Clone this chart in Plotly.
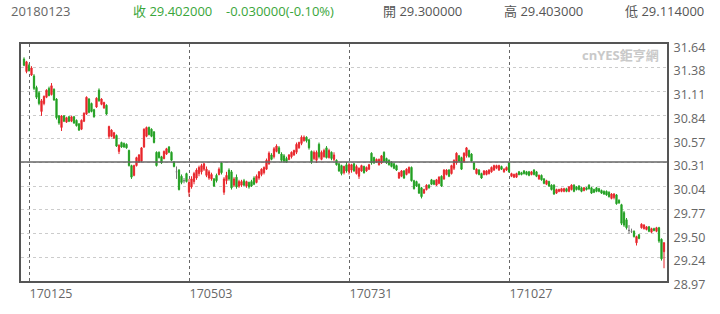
import plotly.graph_objects as go

# ---------------- data ----------------
opens = [
31.47,31.33,31.40,31.29,31.28,31.15,31.09,30.88,30.97,31.04,
31.14,31.07,31.13,31.02,30.83,30.70,30.83,30.76,30.82,30.77,
30.82,30.78,30.74,30.68,30.77,30.85,31.02,30.97,30.90,30.93,
31.12,30.96,30.92,30.95,30.60,30.60,30.58,30.61,30.43,30.53,
30.52,30.51,30.44,30.27,30.16,30.27,30.31,30.32,30.48,30.60,
30.70,30.68,30.65,30.42,30.42,30.37,30.35,30.40,30.48,30.42,
30.31,30.20,30.22,30.15,30.10,30.18,
29.97,30.03,30.09,30.13,30.18,30.20,30.23,30.16,30.13,30.12,
30.12,30.16,30.17,30.30,29.97,30.10,30.22,30.20,30.05,30.14,
30.04,30.05,30.10,30.04,30.08,30.09,30.13,30.08,30.13,30.17,
30.19,30.23,30.29,30.39,30.37,30.43,30.47,30.40,30.38,30.35,
30.34,30.37,30.39,30.42,30.47,30.52,30.55,30.59,30.56,30.43,
30.35,30.33,30.51,30.34,30.37,30.47,30.36,30.42,30.34,30.33,
30.29,30.27,30.19,30.28,
30.20,30.22,30.29,30.18,30.15,30.21,30.26,30.21,30.23,30.41,
30.36,30.31,30.28,30.30,30.42,30.35,30.33,30.31,30.29,30.27,
30.13,30.15,30.21,30.17,30.19,30.25,30.10,30.09,30.06,30.02,
29.96,30.00,30.05,30.11,30.10,30.05,30.07,30.15,30.12,30.17,
30.22,30.18,30.24,30.30,30.38,30.36,30.31,30.38,30.44,30.40,
30.30,30.18,30.22,30.18,30.17,30.17,30.18,30.20,30.22,30.24,
30.22,30.26,30.20,30.22,
30.30,30.15,30.14,30.14,30.20,30.19,30.21,30.20,30.20,30.17,
30.22,30.20,30.12,30.16,30.12,30.06,30.09,30.05,30.05,29.96,
29.98,29.98,29.98,30.01,29.98,30.00,30.05,30.03,30.04,30.02,
29.99,30.02,30.05,30.02,30.00,30.02,30.01,29.99,29.98,29.98,
29.97,29.90,29.91,29.94,29.88,29.83,29.74,29.66,29.54,29.53,
29.53,29.40,29.49,29.57,29.56,29.55,29.58,29.52,29.56,29.53,
29.57,29.44,29.30]

closes = [
31.40,31.44,31.34,31.37,31.14,31.04,30.97,31.00,31.05,31.12,
31.06,31.17,31.01,30.81,30.75,30.83,30.77,30.81,30.77,30.82,
30.75,30.72,30.67,30.78,30.86,31.04,30.87,30.88,30.82,31.03,
31.00,31.02,30.98,30.85,30.71,30.67,30.64,30.49,30.50,30.48,
30.48,30.47,30.27,30.14,30.27,30.36,30.39,30.47,30.68,30.70,
30.62,30.60,30.53,30.27,30.36,30.30,30.43,30.46,30.42,30.33,
30.26,30.20,30.00,30.08,30.10,30.09,
30.08,30.12,30.18,30.22,30.25,30.27,30.29,30.23,30.20,30.17,
30.04,30.10,30.23,30.19,30.12,30.16,30.12,30.02,30.12,30.03,
30.09,30.09,30.05,30.09,30.03,30.04,30.06,30.15,30.20,30.23,
30.25,30.33,30.41,30.34,30.46,30.49,30.41,30.33,30.32,30.31,
30.39,30.42,30.44,30.51,30.53,30.59,30.59,30.55,30.47,30.31,
30.42,30.42,30.37,30.42,30.44,30.36,30.44,30.35,30.39,30.28,
30.21,30.18,30.26,30.21,
30.28,30.28,30.21,30.26,30.24,30.27,30.19,30.25,30.28,30.30,
30.30,30.34,30.34,30.38,30.32,30.30,30.28,30.26,30.24,30.22,
30.19,30.21,30.13,30.23,30.25,30.10,30.01,30.04,29.96,29.92,
30.00,30.05,30.02,30.06,30.06,30.11,30.14,30.04,30.22,30.22,
30.15,30.27,30.33,30.41,30.32,30.23,30.41,30.47,30.37,30.32,
30.23,30.23,30.17,30.13,30.21,30.21,30.22,30.25,30.27,30.27,
30.27,30.23,30.23,30.25,
30.20,30.18,30.17,30.18,30.17,30.17,30.18,30.17,30.16,30.20,
30.17,30.15,30.16,30.11,30.07,30.10,30.04,30.00,29.95,30.00,
30.00,30.01,30.01,29.98,30.03,30.05,29.98,30.00,30.00,29.98,
30.02,30.00,30.01,29.96,29.97,29.98,29.98,29.96,29.95,29.94,
29.92,29.95,29.95,29.84,29.85,29.62,29.60,29.57,29.54,29.53,
29.47,29.47,29.45,29.61,29.60,29.58,29.53,29.56,29.54,29.57,
29.42,29.22,29.402]

highs = [
31.49,31.45,31.42,31.39,31.30,31.17,31.11,31.02,31.06,31.13,
31.16,31.20,31.14,31.03,30.84,30.84,30.84,30.82,30.83,30.83,
30.83,30.79,30.75,30.79,30.87,31.05,31.03,30.98,30.91,31.04,
31.14,31.03,30.99,30.96,30.72,30.68,30.65,30.62,30.51,30.54,
30.53,30.52,30.45,30.28,30.28,30.37,30.40,30.48,30.69,30.71,
30.71,30.69,30.66,30.43,30.43,30.38,30.44,30.47,30.49,30.43,
30.32,30.26,30.23,30.17,30.13,30.19,
30.12,30.15,30.20,30.24,30.27,30.29,30.30,30.26,30.22,30.19,
30.13,30.18,30.25,30.31,30.14,30.20,30.24,30.22,30.14,30.17,
30.11,30.11,30.12,30.10,30.09,30.11,30.15,30.17,30.21,30.24,
30.26,30.35,30.43,30.41,30.48,30.51,30.49,30.42,30.40,30.37,
30.40,30.43,30.45,30.53,30.54,30.61,30.61,30.60,30.57,30.44,
30.44,30.44,30.53,30.44,30.46,30.49,30.46,30.43,30.42,30.34,
30.30,30.28,30.27,30.31,
30.30,30.29,30.30,30.28,30.25,30.28,30.27,30.26,30.29,30.42,
30.37,30.35,30.35,30.39,30.43,30.36,30.34,30.32,30.30,30.28,
30.20,30.22,30.22,30.24,30.26,30.26,30.11,30.10,30.07,30.03,
30.01,30.06,30.06,30.12,30.11,30.12,30.15,30.16,30.23,30.23,
30.23,30.28,30.34,30.42,30.39,30.37,30.42,30.48,30.45,30.41,
30.31,30.24,30.23,30.19,30.22,30.22,30.23,30.26,30.28,30.28,
30.28,30.27,30.24,30.26,
30.31,30.19,30.18,30.19,30.21,30.20,30.22,30.21,30.21,30.21,
30.23,30.21,30.17,30.17,30.13,30.11,30.10,30.06,30.06,30.01,
30.01,30.02,30.02,30.02,30.04,30.06,30.06,30.04,30.05,30.03,
30.03,30.03,30.06,30.03,30.01,30.03,30.02,30.00,29.99,29.99,
29.98,29.96,29.96,29.95,29.89,29.84,29.76,29.68,29.60,29.56,
29.54,29.48,29.50,29.62,29.61,29.59,29.59,29.57,29.57,29.58,
29.58,29.45,29.403]

lows = [
31.39,31.31,31.33,31.28,31.12,31.02,30.95,30.83,30.95,31.03,
31.05,31.06,31.00,30.79,30.73,30.66,30.76,30.75,30.76,30.76,
30.74,30.71,30.66,30.67,30.76,30.84,30.86,30.87,30.81,30.92,
30.99,30.95,30.91,30.84,30.57,30.59,30.57,30.48,30.40,30.47,
30.47,30.46,30.26,30.12,30.15,30.26,30.30,30.31,30.47,30.59,
30.61,30.59,30.52,30.26,30.35,30.29,30.34,30.39,30.41,30.32,
30.25,30.12,29.99,30.06,30.07,30.08,
29.92,30.01,30.06,30.11,30.15,30.17,30.21,30.14,30.11,30.10,
30.03,30.08,30.16,30.17,29.94,30.06,30.10,30.00,30.03,30.01,
30.02,30.03,30.04,30.02,30.01,30.03,30.05,30.07,30.11,30.15,
30.17,30.22,30.28,30.33,30.35,30.42,30.40,30.31,30.30,30.30,
30.33,30.35,30.38,30.40,30.46,30.50,30.54,30.53,30.45,30.29,
30.33,30.30,30.35,30.33,30.36,30.35,30.35,30.33,30.32,30.27,
30.20,30.16,30.17,30.19,
30.17,30.19,30.20,30.17,30.12,30.20,30.18,30.20,30.22,30.28,
30.29,30.30,30.27,30.29,30.31,30.29,30.27,30.25,30.23,30.21,
30.12,30.14,30.12,30.16,30.18,30.09,30.00,30.03,29.95,29.90,
29.95,29.99,30.01,30.05,30.05,30.04,30.06,30.03,30.11,30.16,
30.14,30.17,30.22,30.28,30.31,30.22,30.30,30.36,30.36,30.31,
30.22,30.17,30.16,30.12,30.16,30.16,30.17,30.19,30.21,30.23,
30.21,30.22,30.19,30.21,
30.19,30.14,30.13,30.13,30.16,30.16,30.17,30.16,30.15,30.16,
30.16,30.14,30.11,30.10,30.06,30.05,30.03,29.99,29.94,29.95,
29.97,29.97,29.97,29.97,29.97,29.99,29.97,29.99,29.99,29.97,
29.98,29.99,30.00,29.95,29.96,29.97,29.97,29.95,29.94,29.93,
29.91,29.89,29.89,29.83,29.84,29.60,29.58,29.55,29.50,29.51,
29.46,29.37,29.44,29.56,29.55,29.54,29.52,29.51,29.53,29.52,
29.40,29.20,29.114]

date_tick_index = [2, 66, 130, 194]
date_tick_labels = ["170125", "170503", "170731", "171027"]

price_ticks = [28.97, 29.24, 29.50, 29.77, 30.04, 30.31, 30.57, 30.84, 31.11, 31.38, 31.64]
ref_line = 30.31

header_date = "20180123"
header_close = "收 29.402000"
header_change = "-0.030000(-0.10%)"
header_open = "開 29.300000"
header_high = "高 29.403000"
header_low = "低 29.114000"
watermark = "cnYES鉅亨網"

# ---------------- figure ----------------
RED = "#e8262c"
GREEN = "#23a023"
GRAY = "#777777"
FONT = "Open Sans, Noto Sans CJK TC, sans-serif"

idx = list(range(len(closes)))
reg = [i for i in idx if opens[i] != closes[i]]
doji = [i for i in idx if opens[i] == closes[i]]

fig = go.Figure()
fig.add_trace(go.Candlestick(
    x=reg, open=[opens[i] for i in reg], high=[highs[i] for i in reg],
    low=[lows[i] for i in reg], close=[closes[i] for i in reg],
    increasing=dict(line=dict(color=RED, width=1), fillcolor=RED),
    decreasing=dict(line=dict(color=GREEN, width=1), fillcolor=GREEN),
    whiskerwidth=0, showlegend=False, hoverinfo="skip"))
fig.add_trace(go.Candlestick(
    x=doji, open=[opens[i] for i in doji], high=[highs[i] for i in doji],
    low=[lows[i] for i in doji], close=[closes[i] for i in doji],
    increasing=dict(line=dict(color=GRAY, width=1), fillcolor=GRAY),
    decreasing=dict(line=dict(color=GRAY, width=1), fillcolor=GRAY),
    whiskerwidth=0, showlegend=False, hoverinfo="skip"))

L, R, T, B = 21, 667, 44, 287
W, H = 720, 314

def px(xp):
    return (xp - L) / (R - L)

def py(yp):
    return (B - yp) / (B - T)

fig.add_shape(type="line", xref="paper", yref="y", x0=0, x1=1, y0=ref_line, y1=ref_line,
              line=dict(color="#666666", width=1.5), layer="above")

ann = []
def head(text, xpix, color):
    ann.append(dict(text=text, x=px(xpix), y=py(10), xref="paper", yref="paper",
                    xanchor="left", yanchor="middle", showarrow=False,
                    font=dict(family=FONT, size=13, color=color)))

head(header_date, 9, "#666666")
head(header_close, 131, "#3aa63a")
head(header_change, 224, "#3aa63a")
head(header_open, 381, "#555555")
head(header_high, 502, "#555555")
head(header_low, 623, "#555555")

ann.append(dict(text="<b>" + watermark + "</b>", x=px(661), y=py(55), xref="paper", yref="paper",
                xanchor="right", yanchor="middle", showarrow=False,
                font=dict(family=FONT, size=13, color="#c9c9c9")))

fig.update_layout(
    width=W, height=H,
    margin=dict(l=L, r=W - R, t=T, b=H - B),
    paper_bgcolor="white", plot_bgcolor="white",
    annotations=ann,
    xaxis=dict(range=[-1.2, 257.2], rangeslider=dict(visible=False),
               tickvals=date_tick_index, ticktext=date_tick_labels,
               showgrid=True, gridcolor="#666666", griddash="3px,3px", gridwidth=1,
               zeroline=False, showline=True, mirror=True, linecolor="#555555", linewidth=2,
               ticks="", ticklabelshift=22,
               tickfont=dict(family=FONT, size=12.5, color="#666666")),
    yaxis=dict(range=[price_ticks[0], price_ticks[-1]], side="right",
               tickvals=price_ticks, ticktext=["%.2f" % v for v in price_ticks],
               showgrid=True, gridcolor="#cccccc", griddash="dot", gridwidth=1,
               zeroline=False, showline=True, mirror=True, linecolor="#555555", linewidth=2,
               ticks="", ticklabelshift=4, ticklabelstandoff=2,
               tickfont=dict(family=FONT, size=12.5, color="#666666")),
)

fig.write_html("out.html")
